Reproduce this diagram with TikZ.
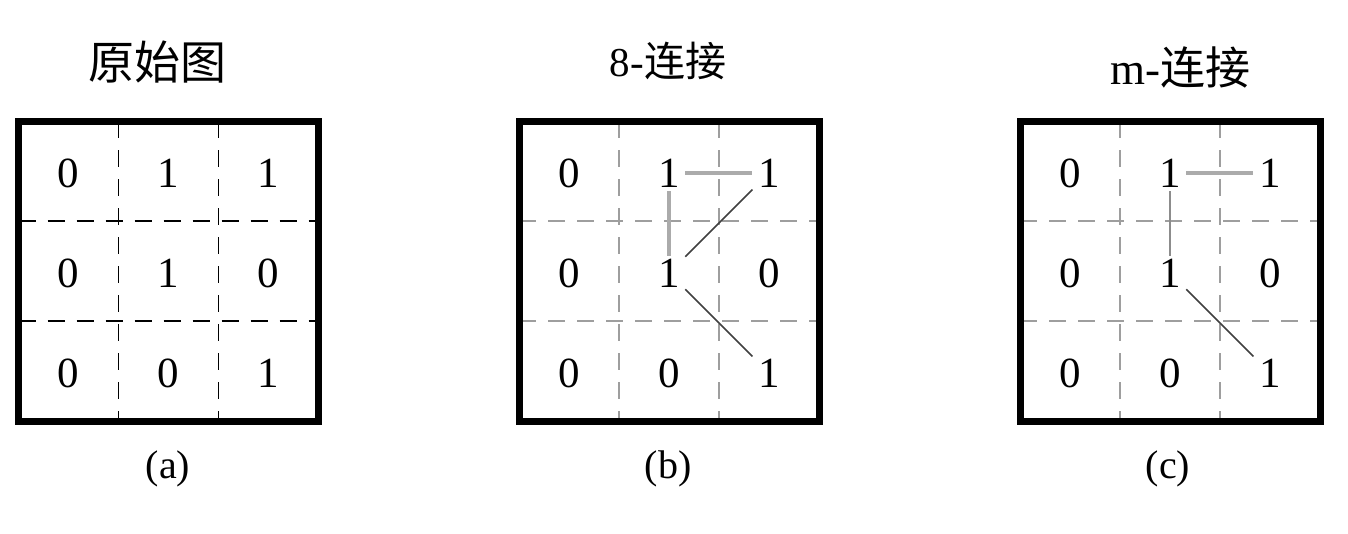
\documentclass[tikz,border=0pt]{standalone}
\usepackage{fontspec}
\setmainfont{Liberation Serif}
\newfontfamily\cjk{Noto Sans CJK SC}
\begin{document}
\begin{tikzpicture}[x=1pt,y=-1pt,
  frame/.style={line width=7pt, draw=black},
  gridA/.style={draw=black, line width=1.8pt, dash pattern=on 17pt off 12pt},
  gridB/.style={draw=black!38, line width=2.2pt, dash pattern=on 17pt off 12pt},
  digit/.style={inner sep=0pt, minimum width=30pt, minimum height=30pt, font=\fontsize{43}{43}\selectfont},
  adj/.style={draw=black!33, line width=3.5pt},
  adjthin/.style={draw=black!45, line width=2.4pt},
  diag/.style={draw=black!75, line width=1.6pt},
  title/.style={inner sep=0pt},
  caption/.style={inner sep=0pt, font=\fontsize{40}{40}\selectfont}
]
\fill[white] (0,0) rectangle (1348,533);
\useasboundingbox (0,0) rectangle (1348,533);

% grids
\foreach \g in {1,2}{
  \draw[gridA] (18.5+100*\g,121) -- (18.5+100*\g,421);
  \draw[gridA] (18.5,121+100*\g) -- (318.5,121+100*\g);
  \draw[gridB] (519+100*\g,121) -- (519+100*\g,421);
  \draw[gridB] (519,121+100*\g) -- (819,121+100*\g);
  \draw[gridB] (1020+100*\g,121) -- (1020+100*\g,421);
  \draw[gridB] (1020,121+100*\g) -- (1320,121+100*\g);
}
% frames
\draw[frame] (18.5,121) rectangle (318.5,421);
\draw[frame] (519,121) rectangle (819,421);
\draw[frame] (1020,121) rectangle (1320,421);

% digits
\foreach \p/\x in {a/18.5,b/519,c/1020}{
  \foreach \r/\vals in {0/{0,1,1},1/{0,1,0},2/{0,0,1}}{
    \foreach \v [count=\c from 0] in \vals {
      \node[digit] (\p\r\c) at (\x+50+100*\c, 173+100*\r) {\v};
    }
  }
}

% 8-connectivity
\draw[adj, shorten <=1pt, shorten >=2pt] (b01.east) -- (b02.west);
\draw[adj, shorten <=3pt, shorten >=2pt] (b01.south) -- (b11.north);
\draw[diag, shorten <=1.5pt, shorten >=2pt] (b11.north east) -- (b02.south west);
\draw[diag, shorten <=1.5pt, shorten >=2pt] (b11.south east) -- (b22.north west);

% m-connectivity
\draw[adj, shorten <=1pt, shorten >=2pt] (c01.east) -- (c02.west);
\draw[adjthin, shorten <=3pt, shorten >=2pt] (c01.south) -- (c11.north);
\draw[diag, shorten <=1.5pt, shorten >=2pt] (c11.south east) -- (c22.north west);

% titles
\node[title, font=\cjk\fontsize{46}{46}\selectfont] (ta) at (157,62) {原始图};
\node[title, font=\fontsize{41}{41}\selectfont] (tb) at (668,61) {8-{\cjk 连接}};
\node[title, font=\fontsize{45}{45}\selectfont] (tc) at (1180,67) {m-{\cjk 连接}};

% captions
\node[caption] (ca) at (168,469) {(a)};
\node[caption] (cb) at (668,469) {(b)};
\node[caption] (cc) at (1168,469) {(c)};
\end{tikzpicture}
\end{document}
